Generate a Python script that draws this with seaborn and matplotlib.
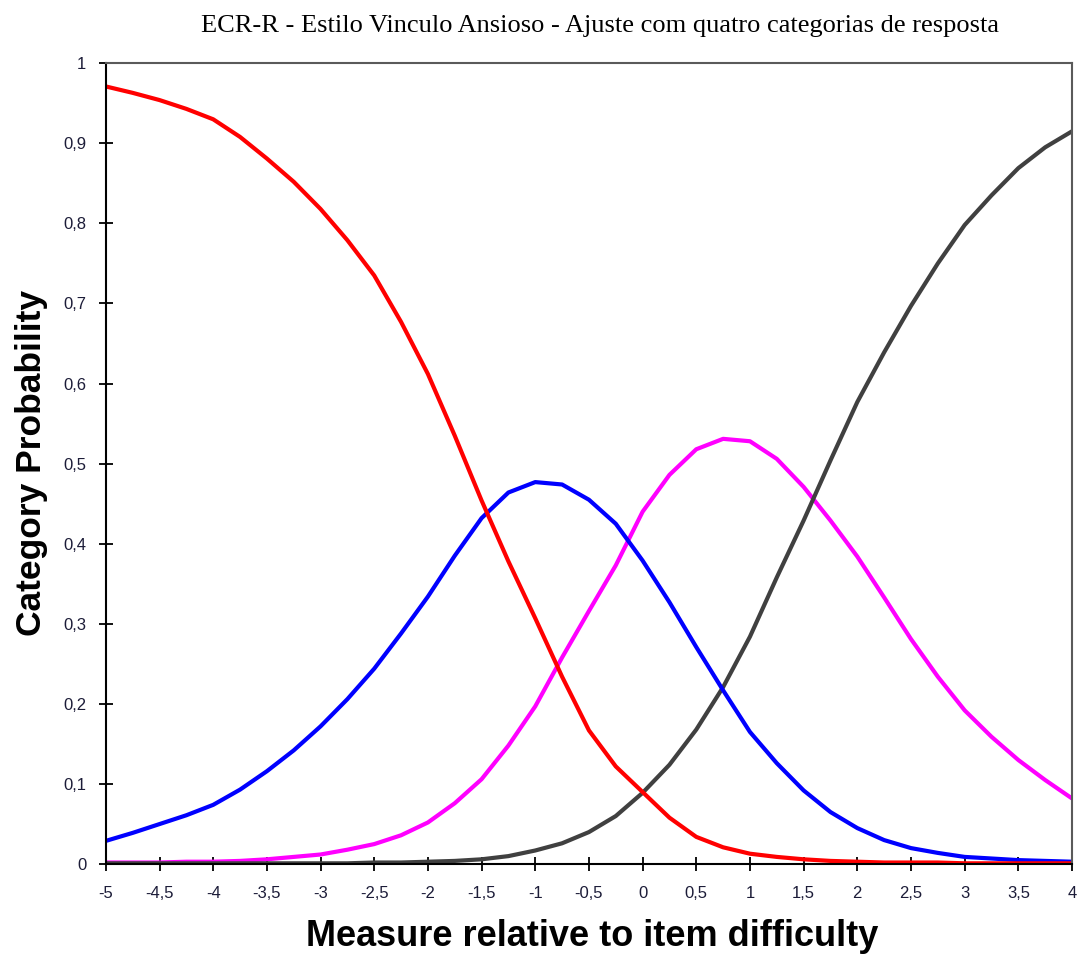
import pandas as pd
import matplotlib
matplotlib.use('Agg')
import matplotlib.pyplot as plt
import seaborn as sns

# Category probability curves (step 0.25)
measure = [-5.0, -4.75, -4.5, -4.25, -4.0, -3.75, -3.5, -3.25, -3.0, -2.75,
           -2.5, -2.25, -2.0, -1.75, -1.5, -1.25, -1.0, -0.75, -0.5, -0.25,
           0.0, 0.25, 0.5, 0.75, 1.0, 1.25, 1.5, 1.75, 2.0, 2.25,
           2.5, 2.75, 3.0, 3.25, 3.5, 3.75, 4.0]

cat_1 = [0.971, 0.963, 0.954, 0.943, 0.930, 0.908, 0.881, 0.852, 0.818, 0.779,
         0.735, 0.677, 0.612, 0.535, 0.454, 0.378, 0.307, 0.234, 0.167, 0.122,
         0.090, 0.058, 0.034, 0.021, 0.013, 0.009, 0.006, 0.004, 0.003, 0.002,
         0.002, 0.002, 0.001, 0.001, 0.001, 0.001, 0.001]

cat_2 = [0.029, 0.039, 0.050, 0.061, 0.074, 0.093, 0.116, 0.142, 0.172, 0.206,
         0.244, 0.288, 0.334, 0.385, 0.432, 0.464, 0.477, 0.474, 0.455, 0.425,
         0.379, 0.327, 0.271, 0.217, 0.165, 0.126, 0.092, 0.065, 0.045, 0.030,
         0.020, 0.014, 0.009, 0.007, 0.005, 0.004, 0.003]

cat_3 = [0.002, 0.002, 0.002, 0.003, 0.003, 0.004, 0.006, 0.009, 0.012, 0.018,
         0.025, 0.036, 0.052, 0.076, 0.106, 0.148, 0.197, 0.258, 0.316, 0.373,
         0.440, 0.486, 0.518, 0.531, 0.528, 0.506, 0.471, 0.429, 0.384, 0.333,
         0.281, 0.234, 0.192, 0.159, 0.130, 0.105, 0.082]

cat_4 = [0.001, 0.001, 0.001, 0.001, 0.001, 0.001, 0.001, 0.001, 0.001, 0.001,
         0.002, 0.002, 0.003, 0.004, 0.006, 0.010, 0.017, 0.026, 0.040, 0.060,
         0.089, 0.124, 0.168, 0.221, 0.284, 0.358, 0.429, 0.504, 0.577, 0.639,
         0.697, 0.750, 0.798, 0.835, 0.869, 0.895, 0.915]

x_ticks = [-5, -4.5, -4, -3.5, -3, -2.5, -2, -1.5, -1, -0.5, 0, 0.5, 1, 1.5, 2, 2.5, 3, 3.5, 4]
x_tick_labels = ['-5', '-4,5', '-4', '-3,5', '-3', '-2,5', '-2', '-1,5', '-1', '-0,5',
                 '0', '0,5', '1', '1,5', '2', '2,5', '3', '3,5', '4']
y_ticks = [0, 0.1, 0.2, 0.3, 0.4, 0.5, 0.6, 0.7, 0.8, 0.9, 1]
y_tick_labels = ['0', '0,1', '0,2', '0,3', '0,4', '0,5', '0,6', '0,7', '0,8', '0,9', '1']

# long format table for seaborn (draw order: magenta, gray, blue, red on top)
frames = []
for name, vals in [('3', cat_3), ('4', cat_4), ('2', cat_2), ('1', cat_1)]:
    frames.append(pd.DataFrame({'measure': measure, 'prob': vals, 'category': name}))
df = pd.concat(frames, ignore_index=True)

palette = {'1': '#ff0000', '2': '#0000ff', '3': '#ff00ff', '4': '#404040'}

sns.set_style('white')
fig, ax = plt.subplots(figsize=(10.8, 9.58), dpi=100)
fig.subplots_adjust(left=0.098, right=0.9926, bottom=0.098, top=0.934)

sns.lineplot(data=df, x='measure', y='prob', hue='category',
             hue_order=['3', '4', '2', '1'], palette=palette,
             linewidth=3, legend=False, sort=False, ax=ax)
for line in ax.get_lines():
    line.set_solid_joinstyle('round')
    line.set_solid_capstyle('butt')

ax.set_xlim(-5, 4)
ax.set_ylim(0, 1)
ax.set_xticks(x_ticks)
ax.set_xticklabels(x_tick_labels)
ax.set_yticks(y_ticks)
ax.set_yticklabels(y_tick_labels)
ax.tick_params(bottom=True, left=True, direction='inout', length=10, width=1.3,
               color='black', labelsize=12, labelcolor='#1c1c38')
ax.tick_params(axis='x', pad=11)
ax.tick_params(axis='y', pad=9)
for lbl in ax.get_xticklabels() + ax.get_yticklabels():
    lbl.set_family('Liberation Sans')

# frame: black left/bottom, grey top/right
for side in ['left', 'bottom']:
    ax.spines[side].set_color('black')
    ax.spines[side].set_linewidth(1.5)
for side in ['top', 'right']:
    ax.spines[side].set_color('#5a5a5a')
    ax.spines[side].set_linewidth(1.5)

ax.set_xlabel('')
ax.set_ylabel('')

fig.text(0.556, 0.973, 'ECR-R - Estilo Vinculo Ansioso - Ajuste com quatro categorias de resposta',
         ha='center', va='center', fontsize=19, family='Liberation Serif', color='black')
fig.text(0.029, 0.517, 'Category Probability', rotation=90, ha='center', va='center',
         fontsize=25.5, fontweight='bold', family='Liberation Sans', color='black')
fig.text(0.548, 0.022, 'Measure relative to item difficulty', ha='center', va='center',
         fontsize=26, fontweight='bold', family='Liberation Sans', color='black')

plt.savefig('out.png', dpi=100)
